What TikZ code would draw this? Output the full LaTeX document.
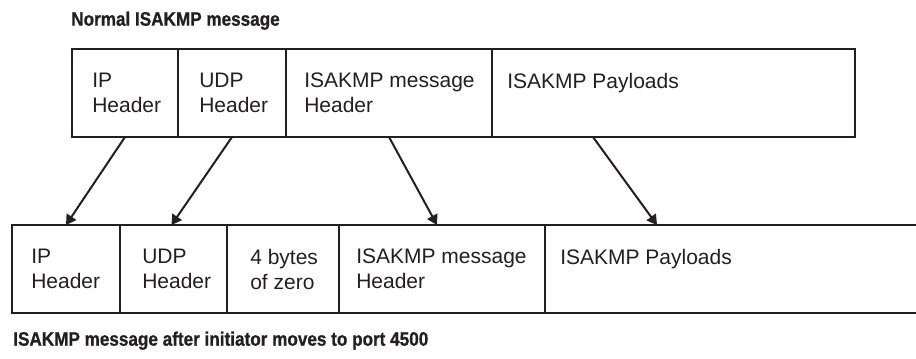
\documentclass[tikz,border=0pt]{standalone}
\usepackage{fontspec}
\setmainfont{Liberation Sans}
\newfontfamily\capfont[FakeStretch=0.88,FakeBold=0.8]{Liberation Sans}
\usetikzlibrary{arrows.meta,positioning,calc}
\definecolor{Ink}{RGB}{35,31,32}

\begin{document}
\begin{tikzpicture}[>={Triangle[length=7.5pt,width=8.5pt]},node distance=0pt,every node/.style={text=Ink}]
\tikzset{field/.style={draw=Ink,line width=1.6pt,outer sep=0pt,inner sep=0pt,minimum height=66pt},
  txt/.style={font=\fontsize{15.75}{18.4}\selectfont,align=left,anchor=north west,inner sep=0pt},
  ttlcap/.style={font=\capfont\bfseries\fontsize{14.6}{16}\selectfont,anchor=base west,inner sep=0pt},
  move/.style={->,line width=1.5pt,draw=Ink}}
\useasboundingbox (0,0) rectangle (687pt,-268.5pt);
% normal message
\node[field,minimum width=79.5pt,anchor=north west] (tip) at (54pt,-36.75pt) {};
\node[field,minimum width=81pt,right=of tip] (tudp) {};
\node[field,minimum width=154.5pt,right=of tudp] (thdr) {};
\node[field,minimum width=272.25pt,right=of thdr] (tpay) {};
\node[txt] (tipl) at ($(tip.north west)+(15pt,-18pt)$) {IP\\Header};
\node[txt] (tudpl) at ($(tudp.north west)+(15.75pt,-18pt)$) {UDP\\Header};
\node[txt] (thdrl) at ($(thdr.north west)+(13.5pt,-18pt)$) {ISAKMP message\\Header};
\node[txt] (tpayl) at ($(tpay.north west)+(11.25pt,-18pt)$) {ISAKMP Payloads};
\node[ttlcap] (ttl) at ($(tip.north west)+(-0.75pt,17.5pt)$) {Normal ISAKMP message};
% message after move to 4500
\node[field,minimum width=81pt,anchor=north west] (bip) at (9pt,-168.75pt) {};
\node[field,minimum width=80.25pt,right=of bip] (budp) {};
\node[field,minimum width=84pt,right=of budp] (bzero) {};
\node[field,minimum width=154.5pt,right=of bzero] (bhdr) {};
\node[field,minimum width=290pt,right=of bhdr] (bpay) {};
\node[txt] (bipl) at ($(bip.north west)+(14.25pt,-18pt)$) {IP\\Header};
\node[txt] (budpl) at ($(budp.north west)+(16.5pt,-18pt)$) {UDP\\Header};
\node[txt] (bzerol) at ($(bzero.north west)+(17.25pt,-18pt)$) {4 bytes\\of zero};
\node[txt] (bhdrl) at ($(bhdr.north west)+(12.75pt,-18pt)$) {ISAKMP message\\Header};
\node[txt] (bpayl) at ($(bpay.north west)+(11.25pt,-18pt)$) {ISAKMP Payloads};
\node[ttlcap] (btl) at ($(bip.south west)+(0.75pt,-24.5pt)$) {ISAKMP message after initiator moves to port 4500};
% arrows
\draw[move] (tip.south) -- (bip.north);
\draw[move] (tudp.south) -- ($(budp.north)+(-1.5pt,0)$);
\draw[move] (thdr.south) -- ($(bhdr.north)+(-3.75pt,0)$);
\draw[move] ($(tpay.south west)+(75.75pt,0)$) -- ($(bpay.north west)+(84pt,0)$);
\end{tikzpicture}
\end{document}
